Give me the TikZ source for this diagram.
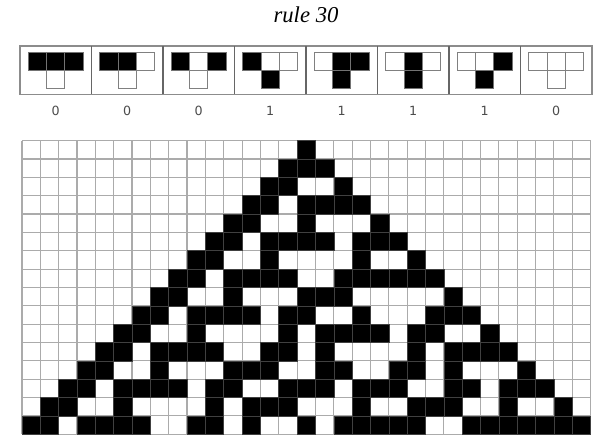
\documentclass[tikz,border=0pt]{standalone}
\usepackage{fontspec}
\setmainfont{Liberation Serif}
\newfontfamily\labfont{DejaVu Sans}
\newcount\cellc
\def\cellsz{18.34}
\def\gx{22}
\def\gy{140.7}
\def\walkcells#1{\ifx#1\relax\else\ifnum#1=1 \fill[caloncell] ({\gx+\the\cellc*\cellsz},{\gy+\currow*\cellsz}) rectangle +(\cellsz,\cellsz);\fi\advance\cellc by 1 \expandafter\walkcells\fi}
\def\drawcarow#1#2{\def\currow{#1}\cellc=\numexpr15-#1\relax\walkcells#2\relax}
\def\rulecell#1#2#3{\ifnum#1=1 \filldraw[rcblack] ({#2},{#3}) rectangle +(18.3,18.3);\else\filldraw[rcwhite] ({#2},{#3}) rectangle +(18.3,18.3);\fi}
\begin{document}
\begin{tikzpicture}[x=0.75pt,y=-0.75pt,
  gridline/.style={draw=black!33,line width=0.85pt},
  caloncell/.style={fill=black,draw=black!75,line width=0.4pt},
  rcblack/.style={fill=black,draw=black!55,line width=0.7pt},
  rcwhite/.style={fill=white,draw=black!50,line width=0.7pt},
  panelbox/.style={draw=black!45,line width=0.8pt},
  paneldiv/.style={draw=black!60,line width=0.8pt},
  lab/.style={font=\labfont\fontsize{9.5}{11}\selectfont,text=black!70,inner sep=0pt},
  titlelab/.style={font=\itshape\fontsize{17}{20}\selectfont,inner sep=0pt}]
\useasboundingbox (0,0) rectangle (603,447);
\fill[white] (0,0) rectangle (603,447);
% title
\node[titlelab] (title) at (306,15) {rule 30};
% rule icons
\draw[panelbox] (20,46) rectangle (592,94.3);
\foreach \k in {1,...,7} \draw[paneldiv] ({20+71.5*\k},46) -- ({20+71.5*\k},94.3);
\foreach \k/\a/\b/\c/\o in {0/1/1/1/0,1/1/1/0/0,2/1/0/1/0,3/1/0/0/1,4/0/1/1/1,5/0/1/0/1,6/0/0/1/1,7/0/0/0/0}{
  \rulecell{\a}{20+71.5*\k+8.25}{52.1}
  \rulecell{\b}{20+71.5*\k+26.55}{52.1}
  \rulecell{\c}{20+71.5*\k+44.85}{52.1}
  \rulecell{\o}{20+71.5*\k+26.55}{70.4}
  \node[lab] (lab\k) at ({20+71.5*\k+35.75},111) {\o};
}
% grid
\foreach \i in {0,...,31} \draw[gridline] ({\gx+\i*\cellsz},\gy) -- ({\gx+\i*\cellsz},{\gy+16*\cellsz});
\foreach \j in {0,...,16} \draw[gridline] (\gx,{\gy+\j*\cellsz}) -- ({\gx+31*\cellsz},{\gy+\j*\cellsz});
% rule 30 evolution
\drawcarow{0}{1}
\drawcarow{1}{111}
\drawcarow{2}{11001}
\drawcarow{3}{1101111}
\drawcarow{4}{110010001}
\drawcarow{5}{11011110111}
\drawcarow{6}{1100100001001}
\drawcarow{7}{110111100111111}
\drawcarow{8}{11001000111000001}
\drawcarow{9}{1101111011001000111}
\drawcarow{10}{110010000101111011001}
\drawcarow{11}{11011110011010000101111}
\drawcarow{12}{1100100011100110011010001}
\drawcarow{13}{110111101100111011100110111}
\drawcarow{14}{11001000010111000100111001001}
\drawcarow{15}{1101111001101001011111001111111}
\end{tikzpicture}
\end{document}
